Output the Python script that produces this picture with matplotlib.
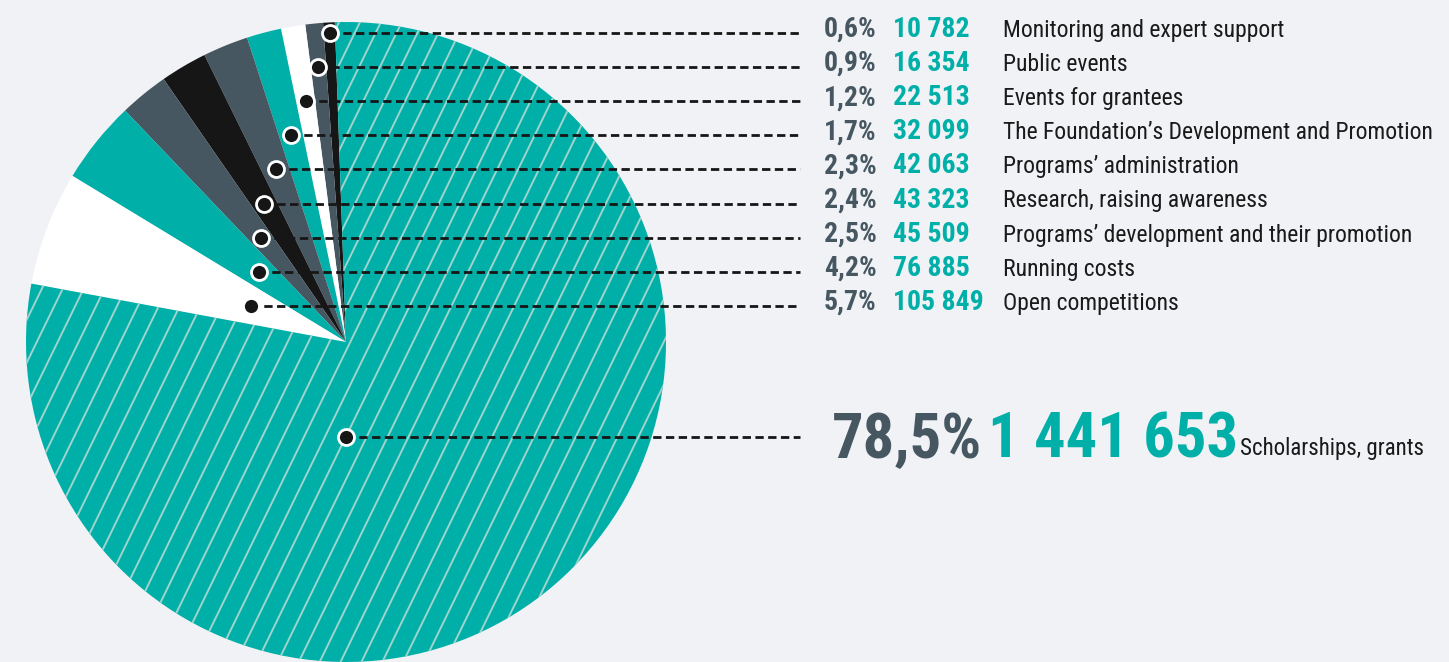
import numpy as np
import matplotlib
matplotlib.use("Agg")
import matplotlib.pyplot as plt
from matplotlib.collections import LineCollection

labels = ["Monitoring and expert support", "Public events", "Events for grantees",
          "The Foundation\u2019s Development and Promotion", "Programs\u2019 administration",
          "Research, raising awareness", "Programs\u2019 development and their promotion",
          "Running costs", "Open competitions", "Scholarships, grants"]
shares = [0.6, 0.9, 1.2, 1.7, 2.3, 2.4, 2.5, 4.2, 5.7, 78.5]
amounts = [10782, 16354, 22513, 32099, 42063, 43323, 45509, 76885, 105849, 1441653]

TEAL = "#00b0a8"
SLATE = "#465761"
BLACK = "#161616"
BG = "#f0f2f5"
colors = [BLACK, SLATE, "white", TEAL, SLATE, BLACK, SLATE, TEAL, "white", TEAL]

plt.rcParams["font.family"] = ["Roboto Condensed", "Roboto", "DejaVu Sans"]

W, H = 1449, 662
fig = plt.figure(figsize=(W / 100, H / 100), dpi=100, facecolor=BG)
ax = fig.add_axes([0, 0, 1, 1])
ax.set_facecolor(BG)

cx, cy, r = 346, H - 342, 320
wedges, _ = ax.pie(amounts, colors=colors, startangle=92, counterclock=True,
                   radius=r, center=(cx, cy), wedgeprops=dict(linewidth=0))

# diagonal hatch on the big slice
big = wedges[-1]
ang = np.deg2rad(64)
d = np.array([np.cos(ang), np.sin(ang)])
segs = []
for x0 in np.arange(-600, 1400, 20.9):
    p = np.array([x0, 0.0])
    segs.append([p - d * 900, p + d * 900])
lc = LineCollection(segs, colors="#9fd4cd", linewidths=1.4, zorder=big.get_zorder() + 0.1)
ax.add_collection(lc)
lc.set_clip_path(big)


def fmt_pct(v):
    return f"{v:.1f}".replace(".", ",") + "%"


def fmt_amt(v):
    return f"{v:,}".replace(",", " ")


line_end = 800
for i in range(9):
    w = wedges[i]
    mid = np.deg2rad((w.theta1 + w.theta2) / 2)
    row = H - (33 + 34.1 * i)
    px = cx + (row - cy) / np.tan(mid)
    ax.plot([px, line_end], [row, row], color=BLACK, lw=2, ls=(0, (3, 1.6)), zorder=5)
    ax.plot(px, row, "o", ms=11.5, mfc=BLACK, mec="white", mew=2, zorder=6)
    base = row - 4
    ax.text(824, base, fmt_pct(shares[i]), color=SLATE, fontsize=20, fontweight="bold", va="baseline")
    ax.text(893, base, fmt_amt(amounts[i]), color=TEAL, fontsize=20, fontweight="bold", va="baseline")
    ax.text(1003, base, labels[i], color="#1a1a1a", fontsize=17, va="baseline")

row = H - 437
ax.plot([cx, line_end], [row, row], color=BLACK, lw=2, ls=(0, (3, 1.6)), zorder=5)
ax.plot(cx, row, "o", ms=11.5, mfc=BLACK, mec="white", mew=2, zorder=6)
ax.text(832, H - 458, fmt_pct(shares[-1]), color=SLATE, fontsize=45, fontweight="bold", va="baseline")
ax.text(988, H - 458, fmt_amt(amounts[-1]), color=TEAL, fontsize=45, fontweight="bold", va="baseline")
ax.text(1240, H - 455, labels[-1], color="#1a1a1a", fontsize=16.5, va="baseline")

ax.set_xlim(0, W)
ax.set_ylim(0, H)
ax.set_aspect("equal")
ax.axis("off")
fig.savefig("out.png", dpi=100, facecolor=BG)
